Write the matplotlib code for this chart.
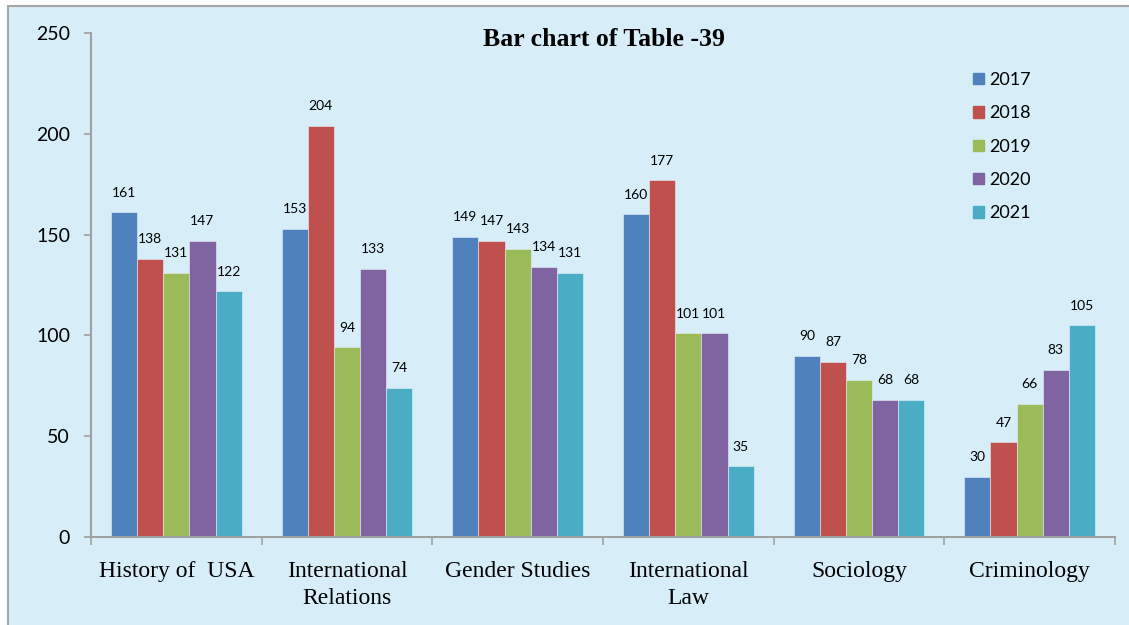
import numpy as np
import matplotlib.pyplot as plt
from matplotlib.patches import Rectangle, Patch

categories = ["History of  USA", "International\nRelations", "Gender Studies",
              "International\nLaw", "Sociology", "Criminology"]
years = ["2017", "2018", "2019", "2020", "2021"]
v2017 = [161, 153, 149, 160, 90, 30]
v2018 = [138, 204, 147, 177, 87, 47]
v2019 = [131, 94, 143, 101, 78, 66]
v2020 = [147, 133, 134, 101, 68, 83]
v2021 = [122, 74, 131, 35, 68, 105]
series = [v2017, v2018, v2019, v2020, v2021]
colors = ["#4F81BD", "#C0504D", "#9BBB59", "#8064A2", "#4BACC6"]

bg = "#D7EEF9"
sans = ["Lato", "DejaVu Sans"]
serif = ["Liberation Serif", "DejaVu Serif"]

fig = plt.figure(figsize=(11.29, 6.25), dpi=100)
fig.patch.set_facecolor("white")
# chart area background with border on top and left
fig.patches.append(Rectangle((8 / 1129, -0.1), 1.2, 1 - 6 / 625 + 0.1,
                             transform=fig.transFigure, facecolor=bg,
                             edgecolor="#A6A6A6", linewidth=1.5, zorder=-10))

ax = fig.add_axes([91 / 1129, 1 - 537 / 625, (1115 - 91) / 1129, (537 - 33) / 625])
ax.set_facecolor("none")

x = np.arange(len(categories))
w = 0.153
for i, (vals, c) in enumerate(zip(series, colors)):
    pos = x + (i - 2) * w
    ax.bar(pos, vals, w, color=c, edgecolor="#E8F0F8", linewidth=0.4, zorder=2,
           label=years[i])
    for p, v in zip(pos, vals):
        ax.annotate(str(v), (p, v), xytext=(0, 14), textcoords="offset points",
                    ha="center", va="center", fontsize=10, family=sans)

ax.set_xlim(-0.5, len(categories) - 0.5)
ax.set_ylim(0, 250)
ax.set_yticks([0, 50, 100, 150, 200, 250])
ax.tick_params(axis="y", length=5, color="#A0A0A0", width=1.2, labelsize=14, pad=10)
for t in ax.get_yticklabels():
    t.set_family(sans)

ax.set_xticks(x)
ax.set_xticklabels(categories, family=serif, fontsize=17, linespacing=1.4)
ax.tick_params(axis="x", which="major", length=0, pad=17)
ax.set_xticks(np.arange(len(categories) + 1) - 0.5, minor=True)
ax.tick_params(axis="x", which="minor", length=6, color="#A0A0A0", width=1.2)

for s in ["top", "right"]:
    ax.spines[s].set_visible(False)
for s in ["left", "bottom"]:
    ax.spines[s].set_color("#A0A0A0")
    ax.spines[s].set_linewidth(1.5)

fig.text(604 / 1129, 1 - 40 / 625, "Bar chart of Table -39", ha="center", va="center",
         fontsize=18.5, fontweight="bold", family=serif)

handles = [Patch(color=c, label=y) for c, y in zip(colors, years)]
fig.legend(handles=handles, loc="upper left", bbox_to_anchor=(973 / 1129, 1 - 72 / 625),
           frameon=False, prop={"family": sans, "size": 13}, handlelength=0.6,
           handleheight=0.6, handletextpad=0.3, labelspacing=0.96,
           borderpad=0, borderaxespad=0)

fig.savefig("out.png", dpi=100, facecolor="white")
